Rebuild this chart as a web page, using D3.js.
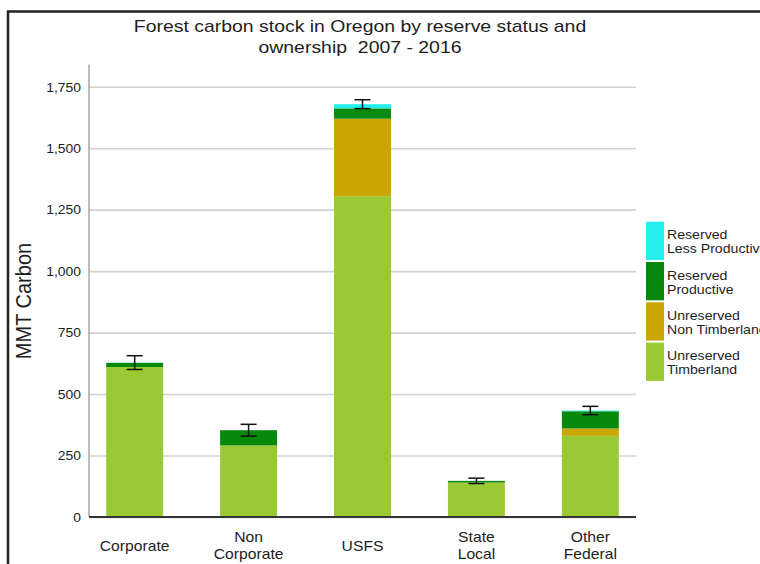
<!DOCTYPE html>
<html><head><meta charset="utf-8">
<script src="https://cdn.jsdelivr.net/npm/d3@7"></script>
<style>
html,body{margin:0;padding:0;background:#fff;overflow:hidden}
svg{display:block}
text{font-family:"Liberation Sans",Arial,sans-serif;fill:#1e1e1e}
</style></head><body>
<svg id="chart" width="760" height="564"></svg>
<script>
// ---- data ----
const categories = ["Corporate", "Non Corporate", "USFS", "State Local", "Other Federal"];
const seriesNames = ["Unreserved Timberland", "Unreserved Non Timberland", "Reserved Productive", "Reserved Less Productive"];
const unreservedTimberland    = [610, 291, 1305, 138, 330];
const unreservedNonTimberland = [0, 0, 315, 2, 30];
const reservedProductive      = [17, 62, 42, 7, 70];
const reservedLessProductive  = [1, 0, 17, 0, 3];
const errorMargin             = [28, 24, 18, 11, 17];
const yTicks = [0, 250, 500, 750, 1000, 1250, 1500, 1750];
const seriesColors = ["#9aca33", "#c9a602", "#078a0b", "#25eeee"];
const titleLines = ["Forest carbon stock in Oregon by reserve status and", "ownership  2007 - 2016"];
const yLabel = "MMT Carbon";

// ---- layout ----
const STRETCH = 1.13;
const svg = d3.select("#chart");
const axisX = 89, gridRight = 636, baseY = 517, topY = 64.6;

// frame
svg.append("rect").attr("x", 8).attr("y", 11.5).attr("width", 800).attr("height", 600)
  .attr("fill", "none").attr("stroke", "#222").attr("stroke-width", 2.5);

const rows = categories.map((c, i) => ({
  cat: c,
  [seriesNames[0]]: unreservedTimberland[i],
  [seriesNames[1]]: unreservedNonTimberland[i],
  [seriesNames[2]]: reservedProductive[i],
  [seriesNames[3]]: reservedLessProductive[i],
  err: errorMargin[i]
}));
const stacked = d3.stack().keys(seriesNames)(rows);
const color = d3.scaleOrdinal().domain(seriesNames).range(seriesColors);

const x = d3.scaleBand().domain(categories).range([axisX, gridRight])
  .paddingInner(0.5).paddingOuter(0.151);
const y = d3.scaleLinear().domain([0, 1840]).range([baseY, topY]);

function stretch(sel, tx, ty) {
  return sel.attr("transform", `translate(${tx},${ty}) scale(${STRETCH},1)`);
}

// y axis with gridlines
const yAxis = d3.axisLeft(y).tickValues(yTicks).tickFormat(d3.format(","))
  .tickSize(-(gridRight - axisX)).tickPadding(0);
const gy = svg.append("g").attr("transform", `translate(${axisX},0)`).call(yAxis);
gy.select(".domain").remove();
gy.selectAll(".tick line").attr("stroke", "#d2d2d2").attr("stroke-width", 1.6);
gy.selectAll(".tick text").attr("x", null).attr("dy", "0.35em")
  .attr("font-size", 12.3).attr("fill", "#222")
  .attr("font-family", '"Liberation Sans",Arial,sans-serif')
  .attr("transform", `translate(-8,0) scale(${STRETCH},1)`);

// y axis line
svg.append("line").attr("x1", axisX).attr("x2", axisX).attr("y1", topY).attr("y2", baseY)
  .attr("stroke", "#999").attr("stroke-width", 1.3);

// bars
svg.append("g").selectAll("g").data(stacked).join("g")
  .attr("fill", d => color(d.key))
  .selectAll("rect").data(d => d).join("rect")
  .attr("x", d => x(d.data.cat))
  .attr("width", x.bandwidth())
  .attr("y", d => y(d[1]))
  .attr("height", d => y(d[0]) - y(d[1]));

// baseline
svg.append("line").attr("x1", axisX).attr("x2", gridRight).attr("y1", y(0)).attr("y2", y(0))
  .attr("stroke", "#333").attr("stroke-width", 2);

// error bars
const totals = rows.map(r => d3.sum(seriesNames, k => r[k]));
const eb = svg.append("g").attr("stroke", "#111").attr("stroke-width", 1.5).attr("fill", "none");
rows.forEach((r, i) => {
  const cx = x(r.cat) + x.bandwidth() / 2;
  const hi = y(totals[i] + r.err), lo = y(totals[i] - r.err);
  eb.append("line").attr("x1", cx).attr("x2", cx).attr("y1", hi).attr("y2", lo);
  eb.append("line").attr("x1", cx - 8).attr("x2", cx + 8).attr("y1", hi).attr("y2", hi);
  eb.append("line").attr("x1", cx - 8).attr("x2", cx + 8).attr("y1", lo).attr("y2", lo);
});

// x labels
categories.forEach(c => {
  const parts = c.split(" ");
  const cx = x(c) + x.bandwidth() / 2;
  const lh = 16.6;
  const firstBase = 550.5 - (parts.length - 1) * lh / 2;
  parts.forEach((p, j) => {
    stretch(svg.append("text"), cx, firstBase + j * lh)
      .attr("text-anchor", "middle").attr("font-size", 13.9).text(p);
  });
});

// title
titleLines.forEach((t, j) => {
  stretch(svg.append("text"), 360, 31.5 + j * 21.5)
    .attr("text-anchor", "middle").attr("font-size", 17.2)
    .style("white-space", "pre").text(t);
});

// y label
svg.append("text").attr("transform", `translate(30.5,301) rotate(-90) scale(1,${STRETCH})`)
  .attr("text-anchor", "middle").attr("font-size", 20).text(yLabel);

// legend
const legendOrder = seriesNames.slice().reverse();
const lg = svg.append("g");
legendOrder.forEach((k, i) => {
  const top = 221.7 + i * 40.3;
  lg.append("rect").attr("x", 646).attr("y", top).attr("width", 18).attr("height", 38.3)
    .attr("fill", color(k));
  const sp = k.indexOf(" ");
  const lines = [k.slice(0, sp), k.slice(sp + 1)];
  lines.forEach((l, j) => {
    stretch(lg.append("text"), 667, top + 17.6 + j * 14)
      .attr("font-size", 12.5).text(l);
  });
});
</script>
</body></html>
